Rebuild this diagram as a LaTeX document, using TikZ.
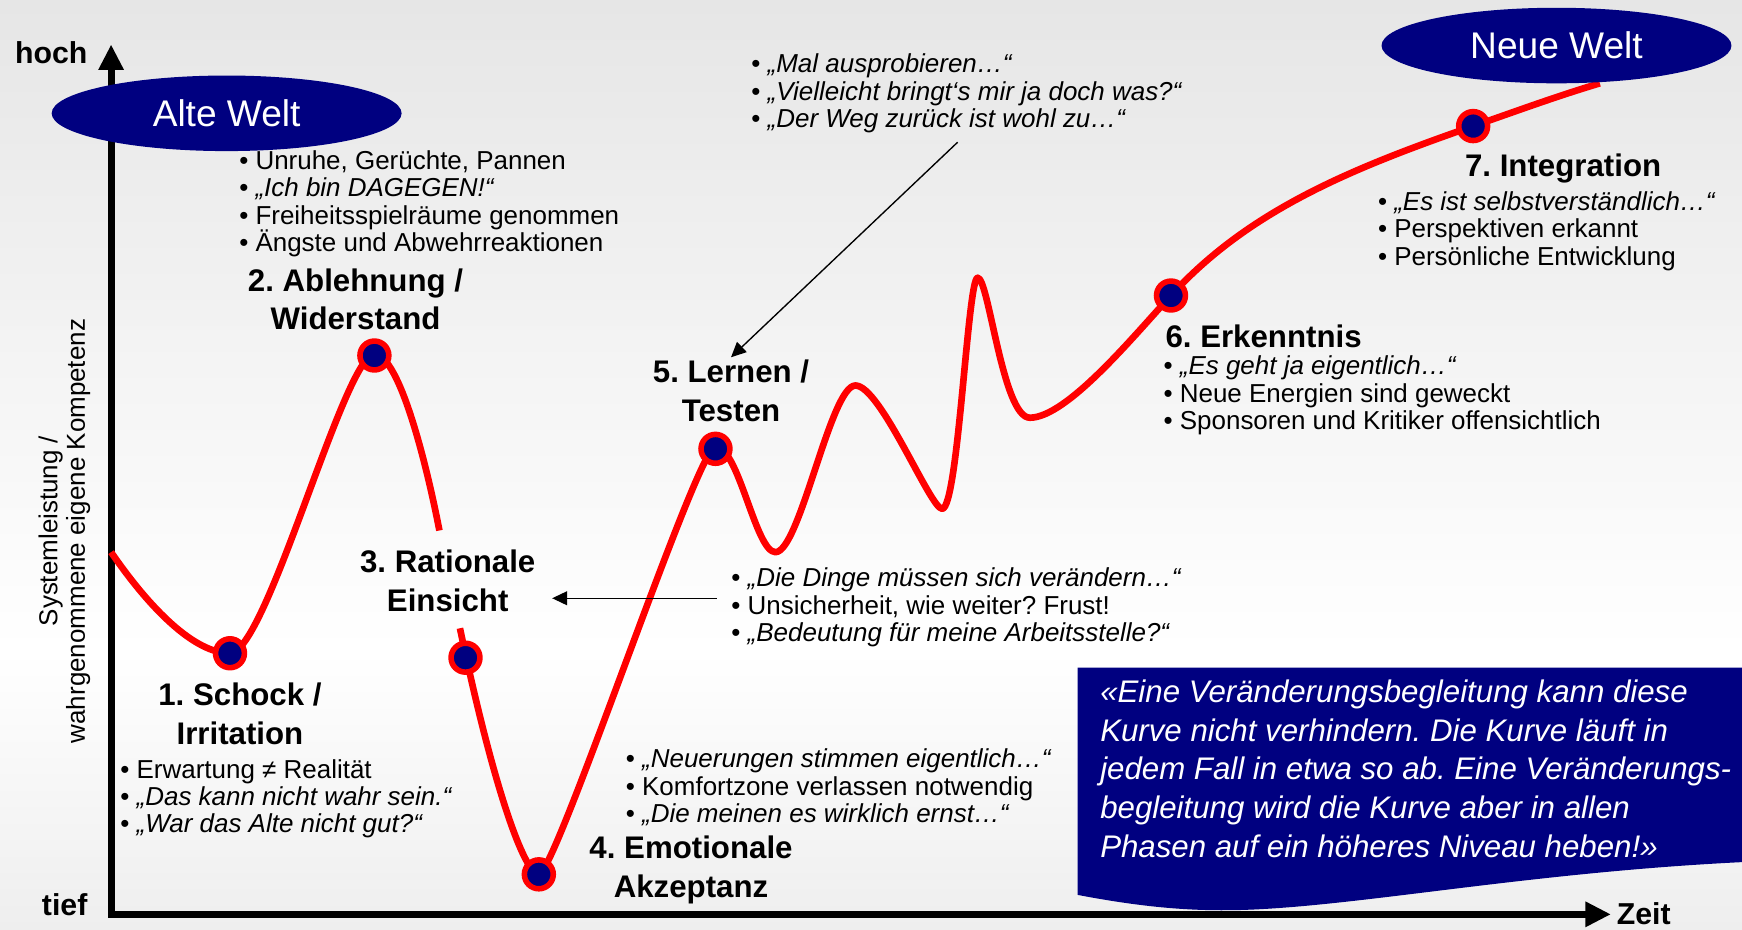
\documentclass[tikz,border=0pt]{standalone}
\usepackage{fontspec}
\setmainfont{Liberation Sans}
\usepackage{tikz}
\usetikzlibrary{arrows.meta, shapes.geometric}

\definecolor{navy}{HTML}{000080}
\definecolor{curvered}{HTML}{FF0000}
\definecolor{bgtop}{HTML}{E6E6E6}
\definecolor{bgbottom}{HTML}{EEEEEE}

% light grey backdrop, brightest a little below the middle
\pgfdeclareverticalshading{backdrop}{100bp}{color(0bp)=(bgbottom); color(25bp)=(bgbottom); color(40bp)=(white); color(75bp)=(bgtop); color(100bp)=(bgtop)}

\frenchspacing

\begin{document}
\begin{tikzpicture}[
    stage/.style={circle, draw=curvered, fill=navy, line width=1mm, minimum size=5.2mm, inner sep=0pt},
    world/.style={ellipse, fill=navy, text=white, minimum width=6.3cm, minimum height=1.36cm, inner sep=0pt, font=\fontsize{19}{22}\selectfont},
    phase/.style={align=center, inner sep=1pt, font=\bfseries\fontsize{16}{19.9}\selectfont},
    notes/.style={align=left, anchor=west, inner sep=0pt, font=\fontsize{13.3}{14.06}\selectfont},
    axislabel/.style={inner sep=0pt, font=\bfseries\fontsize{15.5}{18}\selectfont},
    curve/.style={curvered, line width=1.2mm, line join=round},
    axis/.style={line width=1.26mm, line join=miter, {Triangle[length=4.6mm,width=4.3mm]}-{Triangle[length=4.6mm,width=4.3mm]}},
    pointer/.style={line width=0.7pt, -{Triangle[length=2.7mm,width=2.5mm]}}]

    \useasboundingbox (-2,-0.28) rectangle (29.36,16.46);
    \shade[shading=backdrop] (-2,-0.28) rectangle (29.36,16.46);

    % Axes
    \draw[axis] (0,15.66) -- (0,0) -- (27,0);
    \node[axislabel, anchor=east] (high) at (-0.42,15.52) {hoch};
    \node[axislabel, anchor=east] (low) at (-0.42,0.18) {tief};
    \node[axislabel, anchor=west] (time) at (27.1,0.02) {Zeit};
    \node[rotate=90, align=center, font=\fontsize{13.3}{14.06}\selectfont] (ylabel) at (-0.84,6.9) {Systemleistung /\\wahrgenommene eigene Kompetenz};

    % Curve (broken where phase 3 is written)
    \draw[curve] (0,6.52) .. controls (0.7,5.5) and (1.5,4.70) .. (2.14,4.70)
        .. controls (2.8,4.70) and (4.2,10.08) .. (4.74,10.08)
        .. controls (5.2,10.08) and (5.7,8.0) .. (5.91,6.91);
    \draw[curve] (6.28,5.15) .. controls (6.9,2.2) and (7.45,0.72) .. (7.70,0.72)
        .. controls (8.0,0.72) and (10.55,8.42) .. (10.88,8.42)
        .. controls (11.3,8.42) and (11.6,6.52) .. (11.96,6.52)
        .. controls (12.4,6.52) and (12.95,9.52) .. (13.40,9.52)
        .. controls (13.85,9.52) and (14.75,7.30) .. (14.96,7.30)
        .. controls (15.25,7.30) and (15.42,11.46) .. (15.60,11.46)
        .. controls (15.8,11.46) and (16.05,8.94) .. (16.54,8.94)
        .. controls (17.2,8.94) and (18.4,10.4) .. (19.08,11.14)
        .. controls (20.5,12.7) and (22.4,13.45) .. (24.52,14.19)
        .. controls (25.3,14.46) and (26.0,14.72) .. (26.8,14.96);

    % Worlds
    \node[world] (old) at (2.08,14.42) {Alte Welt};
    \node[world] (new) at (26.02,15.64) {Neue Welt};

    % Stages on the curve
    \node[stage] (s1) at (2.14,4.70) {};
    \node[stage] (s2) at (4.74,10.06) {};
    \node[stage] (s3) at (6.38,4.62) {};
    \node[stage] (s4) at (7.70,0.72) {};
    \node[stage] (s5) at (10.88,8.38) {};
    \node[stage] (s6) at (19.08,11.14) {};
    \node[stage] (s7) at (24.52,14.19) {};

    % Phase titles
    \node[phase] (h1) at (2.32,3.61) {1. Schock /\\Irritation};
    \node[phase] (h2) at (4.40,11.07) {2. Ablehnung /\\Widerstand};
    \node[phase] (h3) at (6.06,6.01) {3. Rationale\\Einsicht};
    \node[phase] (h4) at (10.44,0.80) {4. Emotionale\\Akzeptanz};
    \node[phase] (h5) at (11.16,9.43) {5. Lernen /\\Testen};
    \node[phase, anchor=west] (h6) at (18.94,10.40) {6. Erkenntnis};
    \node[phase] (h7) at (26.14,13.42) {7. Integration};

    % Notes
    \node[notes] (n1) at (0.16,2.08) {• Erwartung ≠ Realität\\• \textit{„Das kann nicht wahr sein.“}\\• \textit{„War das Alte nicht gut?“}};
    \node[notes] (n2) at (2.30,12.79) {• Unruhe, Gerüchte, Pannen\\• \textit{„Ich bin DAGEGEN!“}\\• Freiheitsspielräume genommen\\• Ängste und Abwehrreaktionen};
    \node[notes] (n3) at (11.16,5.52) {• \textit{„Die Dinge müssen sich verändern…“}\\• Unsicherheit, wie weiter? Frust!\\• \textit{„Bedeutung für meine Arbeitsstelle?“}};
    \node[notes] (n4) at (9.26,2.28) {• \textit{„Neuerungen stimmen eigentlich…“}\\• Komfortzone verlassen notwendig\\• \textit{„Die meinen es wirklich ernst…“}};
    \node[notes] (n5) at (11.52,14.78) {• \textit{„Mal ausprobieren…“}\\• \textit{„Vielleicht bringt‘s mir ja doch was?“}\\• \textit{„Der Weg zurück ist wohl zu…“}};
    \node[notes] (n6) at (18.94,9.34) {• \textit{„Es geht ja eigentlich…“}\\• Neue Energien sind geweckt\\• Sponsoren und Kritiker offensichtlich};
    \node[notes] (n7) at (22.80,12.30) {• \textit{„Es ist selbstverständlich…“}\\• Perspektiven erkannt\\• Persönliche Entwicklung};

    % Arrows
    \coordinate (tryout) at (15.24,13.90);
    \coordinate (unsure) at (10.90,5.69);
    \draw[pointer] (tryout) -- (h5.north);
    \draw[pointer, shorten >=2.6mm] (unsure) -- (unsure -| h3.east);

    % Motto box with wavy lower edge
    \fill[navy] (17.4,4.44) -- (29.36,4.44) -- (29.36,0.94)
        .. controls (25.5,0.75) and (22.5,0.15) .. (20.4,0.08)
        .. controls (19.5,0.05) and (18.6,0.12) .. (17.4,0.35) -- cycle;
    \node[align=left, anchor=west, inner sep=0pt, text=white, font=\itshape\fontsize{16}{19.9}\selectfont] (motto) at (17.8,2.62) {«Eine Veränderungsbegleitung kann diese\\Kurve nicht verhindern. Die Kurve läuft in\\jedem Fall in etwa so ab. Eine Veränderungs-\\begleitung wird die Kurve aber in allen\\Phasen auf ein höheres Niveau heben!»};

\end{tikzpicture}
\end{document}
